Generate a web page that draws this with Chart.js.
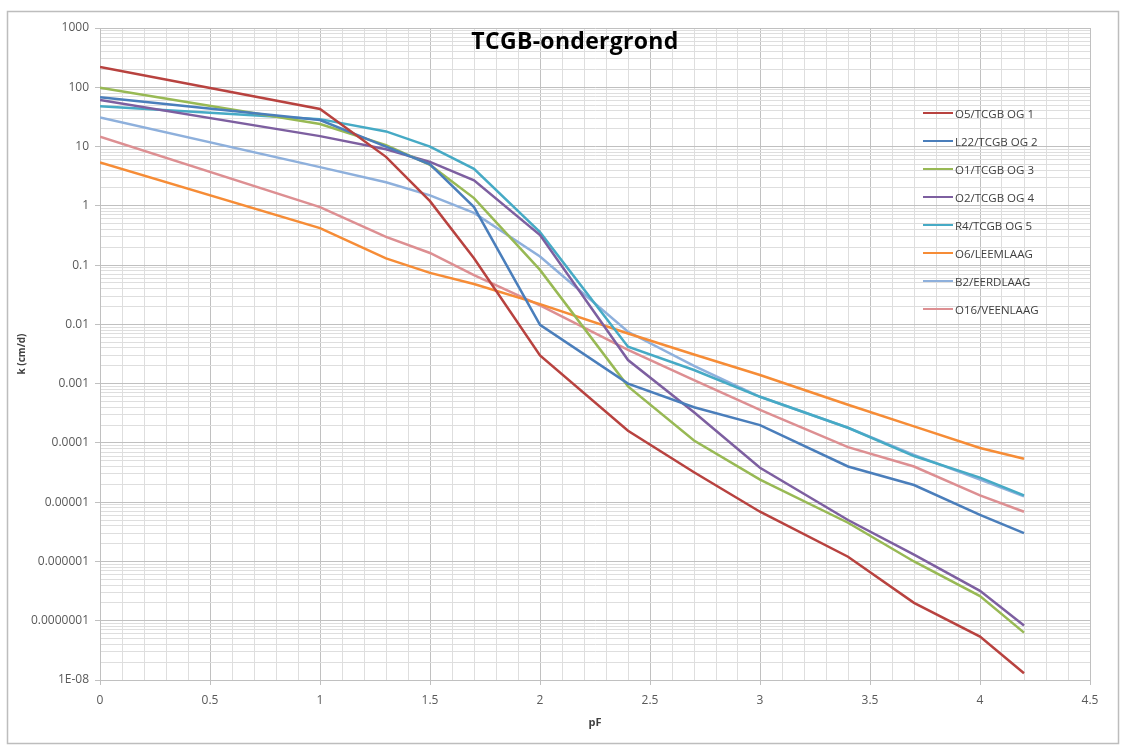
<!DOCTYPE html>
<html>
<head>
<meta charset="utf-8">
<script src="https://cdn.jsdelivr.net/npm/chart.js@4.4.0/dist/chart.umd.min.js"></script>
<style>
  body { margin: 0; background: #fff; font-family: "Open Sans", "Noto Sans", sans-serif; }
  #wrap { position: relative; width: 1128px; height: 745px; }
  #title { position: absolute; left: 0; width: 1150px; top: 24px; text-align: center;
           font-weight: bold; font-size: 23px; color: #000; letter-spacing: 0.3px; }
  #legend { position: absolute; left: 923px; top: 99px; }
  .item { height: 28px; display: flex; align-items: center; font-size: 11.5px; color: #404040; }
  .swatch { width: 30px; height: 2.5px; margin-right: 2px; }
</style>
</head>
<body>
<div id="wrap">
  <canvas id="kChart" width="1128" height="745"></canvas>
  <div id="title">TCGB-ondergrond</div>
  <div id="legend"></div>
</div>
<script>
// pF values (x axis)
let pF = [0, 1, 1.3, 1.5, 1.7, 2, 2.4, 2.7, 3, 3.4, 3.7, 4, 4.2]

// k (cm/d) per sample
let o5  = [220, 43, 6.7, 1.2, 0.13, 0.003, 0.00016, 0.000032, 0.0000069, 0.0000012, 0.0000002, 0.000000054, 0.000000013]
let l22 = [68, 28, 10, 5, 0.95, 0.0098, 0.001, 0.0004, 0.0002, 0.00004, 0.0000195, 0.0000061, 0.000003]
let o1  = [98, 24, 10.6, 4.9, 1.35, 0.083, 0.0009, 0.00011, 0.000024, 0.0000045, 0.000001, 0.00000026, 0.000000063]
let o2  = [61, 15, 9, 5.5, 2.7, 0.32, 0.0025, 0.00033, 0.000038, 0.000005, 0.0000013, 0.00000032, 0.000000083]
let r4  = [48, 29, 18, 10, 4.2, 0.36, 0.0042, 0.0017, 0.0006, 0.00018, 0.00006, 0.000026, 0.000013]
let o6  = [5.4, 0.42, 0.13, 0.074, 0.048, 0.022, 0.007, 0.0031, 0.0014, 0.00044, 0.00019, 0.000082, 0.000054]
let b2  = [31, 4.5, 2.5, 1.5, 0.76, 0.14, 0.0075, 0.002, 0.0006, 0.00018, 0.000063, 0.000024, 0.0000125]
let o16 = [14.7, 0.95, 0.3, 0.16, 0.068, 0.021, 0.0037, 0.00115, 0.00036, 0.000085, 0.00004, 0.000013, 0.0000069]

let seriesNames = ['O5/TCGB OG 1', 'L22/TCGB OG 2', 'O1/TCGB OG 3', 'O2/TCGB OG 4',
                   'R4/TCGB OG 5', 'O6/LEEMLAAG', 'B2/EERDLAAG', 'O16/VEENLAAG']
let seriesValues = [o5, l22, o1, o2, r4, o6, b2, o16]
let seriesColors = ['#b8423f', '#4a7ebb', '#98b954', '#7d5fa0', '#46aac5', '#f68c36', '#8eb0dc', '#dd8f92']

// y tick labels, from 1E-08 up to 1000
let yTickLabels = ['1E-08', '0.0000001', '0.000001', '0.00001', '0.0001', '0.001', '0.01', '0.1', '1', '10', '100', '1000']

function isDecade(v) {
    let e = Math.log10(v)
    return Math.abs(e - Math.round(e)) < 1e-9
}
function isHalf(v) {
    return Math.abs(v * 2 - Math.round(v * 2)) < 1e-6
}

let datasets = seriesNames.map(function (name, i) {
    return {
        label: name,
        data: pF.map((x, j) => ({x: x, y: seriesValues[i][j]})),
        borderColor: seriesColors[i],
        backgroundColor: seriesColors[i],
        borderWidth: 2.5,
        pointRadius: 0,
        tension: 0,
        fill: false
    }
})

//frame round the whole chart, like the spreadsheet chart box
let framePlugin = {
    id: 'frame',
    beforeDraw(chart) {
        let c = chart.ctx
        c.save()
        c.fillStyle = '#fff'
        c.fillRect(0, 0, chart.width, chart.height)
        c.strokeStyle = '#bdbdbd'
        c.lineWidth = 1.5
        c.strokeRect(7.5, 11.5, 1111, 732)
        c.restore()
    }
}

let ctx = document.getElementById('kChart').getContext('2d')

let kChart = new Chart(ctx, {
    type: 'line',
    data: {datasets: datasets},
    plugins: [framePlugin],
    options: {
        responsive: false,
        animation: false,
        devicePixelRatio: 1,
        layout: {padding: {left: 8, right: 38, top: 28, bottom: 12}},
        plugins: {
            legend: {display: false},
            title: {display: false},
            tooltip: {enabled: false}
        },
        scales: {
            x: {
                type: 'linear',
                min: 0,
                max: 4.5,
                afterFit: scale => { scale.height = 53 },
                ticks: {
                    stepSize: 0.1,
                    autoSkip: false,
                    maxRotation: 0,
                    padding: 8,
                    color: '#595959',
                    font: {family: 'Open Sans', size: 12},
                    callback: v => isHalf(v) ? String(Math.round(v * 10) / 10) : ''
                },
                grid: {
                    color: c => isHalf(c.tick.value) ? '#c0c0c0' : '#dedede',
                    tickColor: c => isHalf(c.tick.value) ? '#c0c0c0' : 'rgba(0,0,0,0)',
                    tickLength: 5
                },
                border: {color: '#c0c0c0'},
                title: {
                    display: true,
                    text: 'pF',
                    color: '#404040',
                    font: {family: 'Open Sans', size: 11, weight: 'bold'},
                    padding: {top: 2, bottom: 4}
                }
            },
            y: {
                type: 'logarithmic',
                min: 1e-8,
                max: 1000,
                afterFit: scale => { scale.width = 92 },
                afterBuildTicks: scale => {
                    let t = []
                    for (let e = -8; e < 3; e++) {
                        for (let s = 1; s < 10; s++) t.push({value: s * Math.pow(10, e)})
                    }
                    t.push({value: 1000})
                    scale.ticks = t
                },
                ticks: {
                    autoSkip: false,
                    padding: 6,
                    color: '#595959',
                    font: {family: 'Open Sans', size: 12},
                    callback: v => isDecade(v) ? yTickLabels[Math.round(Math.log10(v)) + 8] : ''
                },
                grid: {
                    color: c => isDecade(c.tick.value) ? '#c0c0c0' : '#dedede',
                    tickColor: c => isDecade(c.tick.value) ? '#c0c0c0' : 'rgba(0,0,0,0)',
                    tickLength: 5
                },
                border: {color: '#c0c0c0'},
                title: {
                    display: true,
                    text: 'k (cm/d)',
                    color: '#404040',
                    font: {family: 'Open Sans', size: 10, weight: 'bold'},
                    padding: {top: 8, bottom: 2}
                }
            }
        }
    }
})

//legend laid over the plot area, as in the reference
let legendBox = document.getElementById('legend')
seriesNames.forEach(function (name, i) {
    let row = document.createElement('div')
    row.className = 'item'
    row.innerHTML = '<span class="swatch" style="background:' + seriesColors[i] + '"></span>' + name
    legendBox.appendChild(row)
})
</script>
</body>
</html>
